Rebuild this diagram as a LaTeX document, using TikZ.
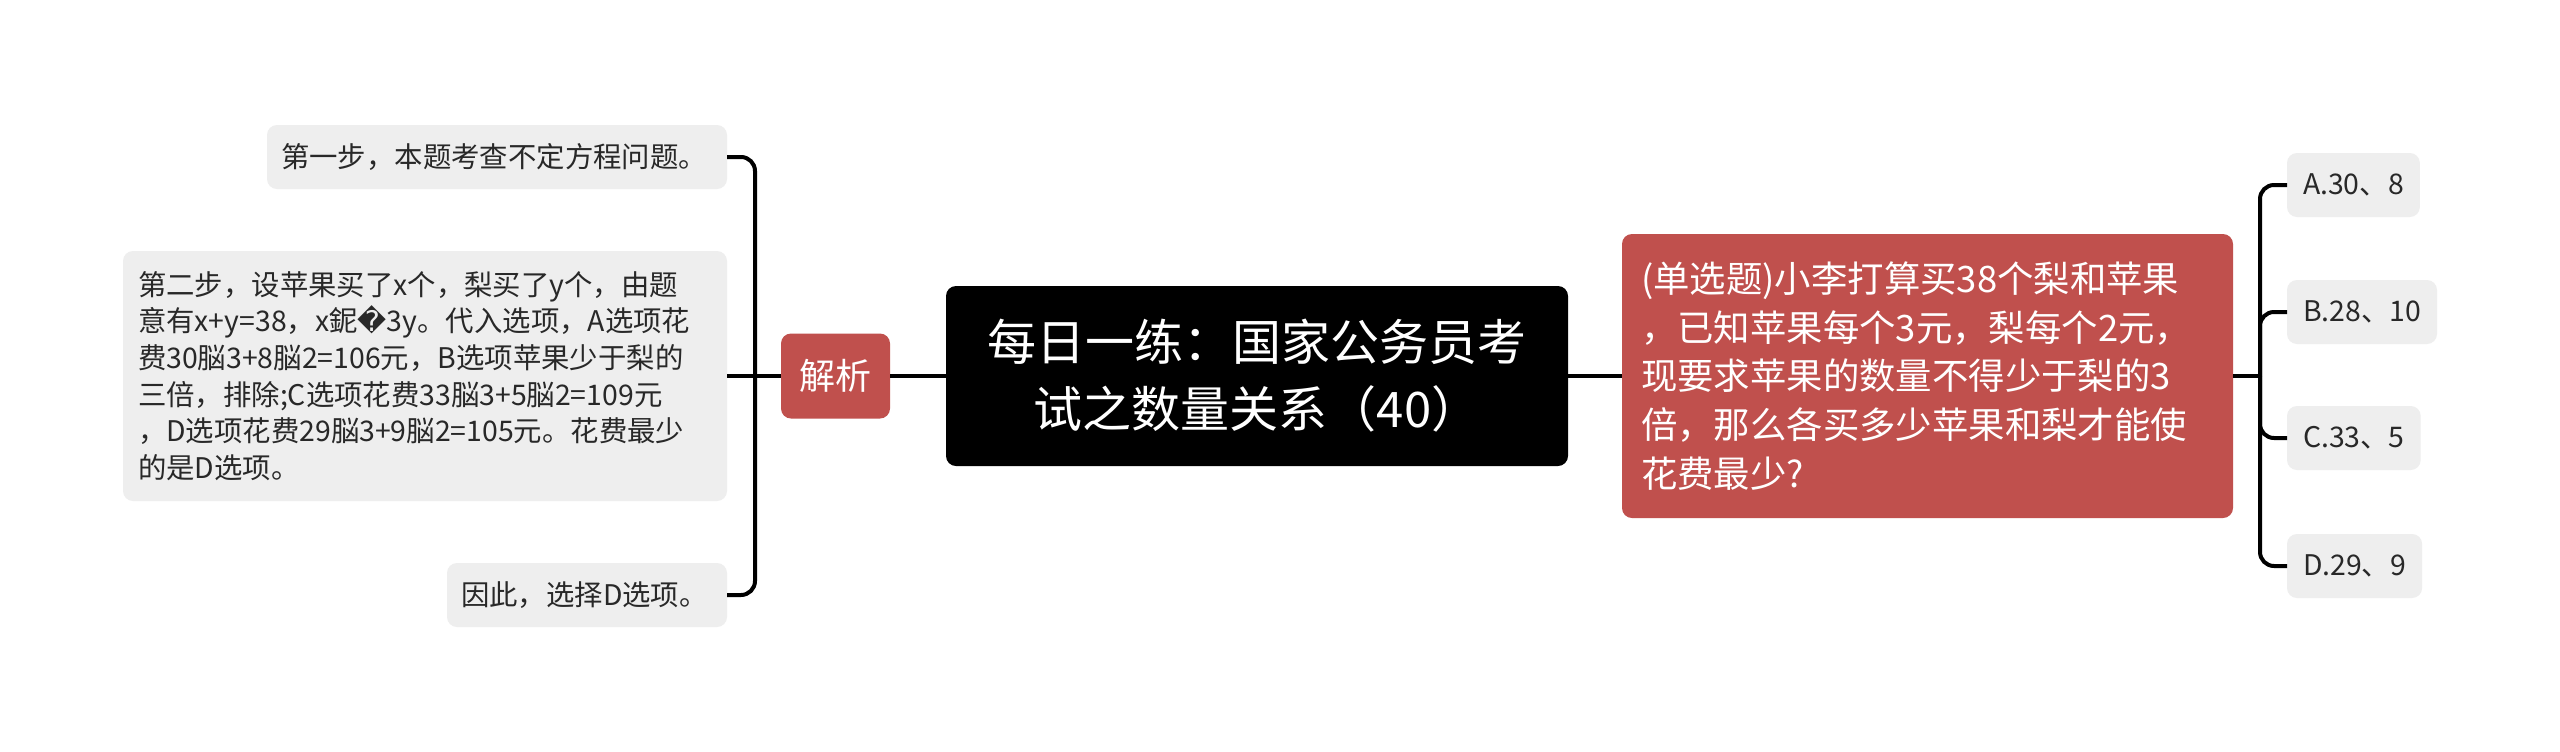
\documentclass[tikz,border=0pt]{standalone}
\usepackage{fontspec}
\setmainfont{Noto Sans CJK SC}
\newfontfamily\repfont{DejaVu Sans}
\usepackage{tikz}
\usetikzlibrary{positioning, calc}

\definecolor{boxred}{RGB}{192,80,77}
\definecolor{boxgray}{RGB}{238,238,238}
\definecolor{txtgray}{RGB}{40,40,40}

\begin{document}
\begin{tikzpicture}[x=0.5pt,y=-0.5pt,every node/.style={outer sep=0pt,inner sep=0pt}]
\tikzstyle{leaf}=[fill=boxgray,rounded corners=5pt,text=txtgray,font=\fontsize{14.2}{18.3}\selectfont,minimum height=32pt,inner xsep=7pt,align=left]
\tikzstyle{redbox}=[fill=boxred,rounded corners=5pt,text=white]
\tikzstyle{branch}=[line width=2pt,rounded corners=7pt]

\fill[white] (0,0) rectangle (2560,751);

% centre
\node (title) [fill=black, rounded corners=5pt, text=white, minimum width=311pt, minimum height=90pt, align=center, font=\fontsize{24.5}{33.5}\selectfont] at (1257,376) {每日一练：国家公务员考\\试之数量关系（40）};

% left side
\node (jiexi) [redbox, anchor=east, xshift=-28pt, minimum width=54.5pt, minimum height=42.5pt, font=\fontsize{18}{22}\selectfont] at (title.west) {解析};
\coordinate[xshift=-13pt] (lj) at (jiexi.west);

\node (step1) [leaf, anchor=east, text width=216pt] at ($(lj)+(-28,-219)$) {第一步，本题考查不定方程问题。};
\node (step2) [leaf, anchor=east, text width=287pt, minimum height=125pt, inner xsep=7.5pt] at ($(lj)+(-28,0)$) {第二步，设苹果买了x个，梨买了y个，由题\\意有x+y=38，x鈮{\repfont �}3y。代入选项，A选项花\\费30脳3+8脳2=106元，B选项苹果少于梨的\\三倍，排除;C选项花费33脳3+5脳2=109元\\，D选项花费29脳3+9脳2=105元。花费最少\\的是D选项。};
\node (step3) [leaf, anchor=east, text width=126pt] at ($(lj)+(-28,219)$) {因此，选择D选项。};

% right side
\node (ques) [redbox, anchor=west, xshift=27pt, text width=286.5pt, inner xsep=9.5pt, minimum height=142pt, align=left, font=\fontsize{18.2}{24.3}\selectfont] at (title.east) {(单选题)小李打算买38个梨和苹果\\，已知苹果每个3元，梨每个2元，\\现要求苹果的数量不得少于梨的3\\倍，那么各买多少苹果和梨才能使\\花费最少?};
\coordinate[xshift=13.5pt] (rj) at (ques.east);

\node (optA) [leaf, anchor=west, inner xsep=8pt] at ($(rj)+(27,-191)$) {A.30、8};
\node (optB) [leaf, anchor=west, inner xsep=8pt] at ($(rj)+(27,-64)$) {B.28、10};
\node (optC) [leaf, anchor=west, inner xsep=8pt] at ($(rj)+(27,62)$) {C.33、5};
\node (optD) [leaf, anchor=west, inner xsep=8pt] at ($(rj)+(27,190)$) {D.29、9};

% connectors
\draw [branch] (step2.east) -- (jiexi.west);
\draw [branch] (lj) |- (step1.east);
\draw [branch] (lj) |- (step3.east);
\draw [branch] (jiexi.east) -- (title.west);
\draw [branch] (title.east) -- (ques.west);
\draw [branch] (ques.east) -- (rj);
\foreach \o in {optA,optB,optC,optD}
  \draw [branch] (rj) |- (\o.west);

\end{tikzpicture}
\end{document}
